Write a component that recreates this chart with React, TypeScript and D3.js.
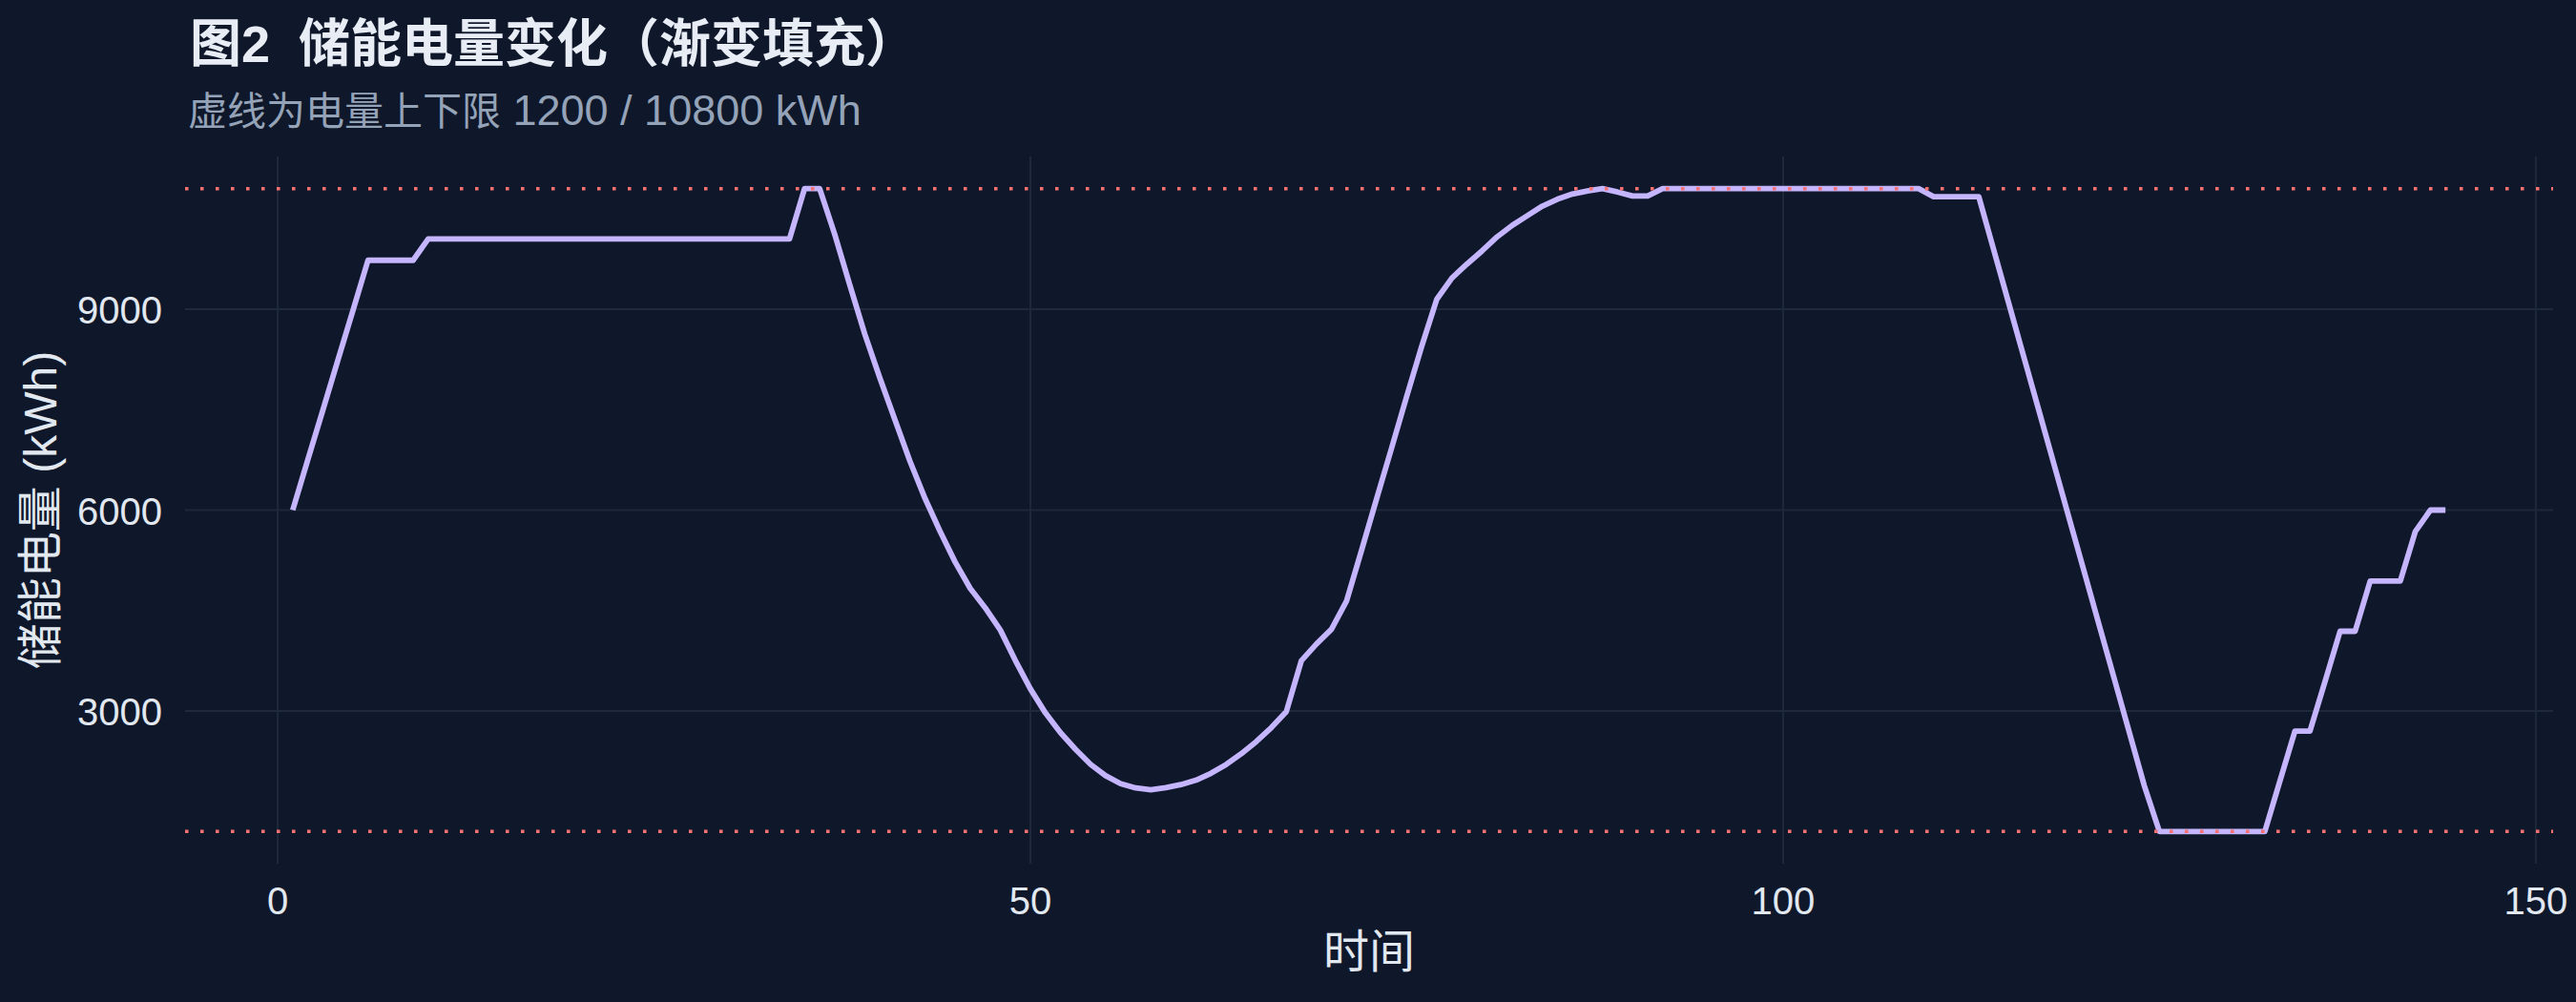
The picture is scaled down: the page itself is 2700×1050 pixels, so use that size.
import React from "react";
import * as d3 from "d3";

// ---- data ----
const chargeUp: number[] = [6000, 6750, 7490, 8240, 8980, 9730, 9730, 9730, 9730];
const holdHigh: number[] = [
  10050, 10050, 10050, 10050, 10050, 10050, 10050, 10050, 10050, 10050, 10050, 10050, 10050,
  10050, 10050, 10050, 10050, 10050, 10050, 10050, 10050, 10050, 10050, 10050, 10050,
  10800, 10800,
];
const dischargeValley: number[] = [
  10120, 9366, 8627, 7973, 7351, 6730, 6174, 5683, 5225, 4832, 4540, 4210, 3755, 3330, 2970,
  2675, 2427, 2202, 2032, 1914, 1850, 1823, 1856, 1900, 1966, 2070, 2200, 2359, 2542, 2750, 2990,
];
const rechargeNoon: number[] = [
  3750, 4000, 4220, 4640, 5400, 6170, 6930, 7700, 8450, 9150, 9465, 9674, 9870, 10080, 10250,
  10394, 10538, 10642, 10720, 10766, 10800, 10750, 10690, 10690,
];
const fullHold: number[] = [
  10800, 10800, 10800, 10800, 10800, 10800, 10800, 10800, 10800, 10800, 10800, 10800, 10800,
  10800, 10800, 10800, 10800, 10800, 10680, 10680, 10680, 10680,
];
const eveningDischarge: number[] = [
  9880, 9080, 8280, 7480, 6680, 5880, 5080, 4280, 3480, 2680, 1880,
  1200, 1200, 1200, 1200, 1200, 1200, 1200, 1200,
];
const nightCharge: number[] = [1950, 2700, 2700, 3440, 4190, 4190, 4940, 4940, 4940, 5680, 6000, 6000];

const energy: number[] = [
  ...chargeUp,
  ...holdHigh,
  ...dischargeValley,
  ...rechargeNoon,
  ...fullHold,
  ...eveningDischarge,
  ...nightCharge,
];

const limits: number[] = [1200, 10800];
const xTicks: number[] = [0, 50, 100, 150];
const yTicks: number[] = [3000, 6000, 9000];

const titleText = "图2  储能电量变化（渐变填充）";
const subtitleCn = "虚线为电量上下限";
const subtitleNum = " 1200 / 10800 kWh";
const xTitle = "时间";
const yTitle = "储能电量 (kWh)";

// ---- layout ----
const W = 2700;
const H = 1050;
const panel = { left: 194, right: 2676, top: 164, bottom: 905 };
const FONT = "'Liberation Sans', Arial, 'Noto Sans CJK SC', sans-serif";

export default function App() {
  const points = energy.map((v, i) => ({ t: i + 1, v }));
  const tExt = d3.extent(points, (d) => d.t) as [number, number];
  const vExt = d3.extent([...energy, ...limits]) as [number, number];
  const tPad = (tExt[1] - tExt[0]) * 0.05;
  const vPad = (vExt[1] - vExt[0]) * 0.05;

  const x = d3
    .scaleLinear()
    .domain([tExt[0] - tPad, tExt[1] + tPad])
    .range([panel.left, panel.right]);
  const y = d3
    .scaleLinear()
    .domain([vExt[0] - vPad, vExt[1] + vPad])
    .range([panel.bottom, panel.top]);

  const line = d3
    .line<{ t: number; v: number }>()
    .x((d) => x(d.t))
    .y((d) => y(d.v));

  return (
    <div style={{ position: "absolute", left: 0, top: 0 }}>
      <svg width={W} height={H} style={{ display: "block" }} fontFamily={FONT}>
        <rect x={0} y={0} width={W} height={H} fill="#0f172a" />

        {/* gridlines */}
        {yTicks.map((v) => (
          <line
            key={"gy" + v}
            x1={panel.left}
            x2={panel.right}
            y1={y(v)}
            y2={y(v)}
            stroke="#1e293b"
            strokeWidth={2}
          />
        ))}
        {xTicks.map((t) => (
          <line
            key={"gx" + t}
            x1={x(t)}
            x2={x(t)}
            y1={panel.top}
            y2={panel.bottom}
            stroke="#1e293b"
            strokeWidth={2}
          />
        ))}

        {/* energy line */}
        <path
          d={line(points) || ""}
          fill="none"
          stroke="#c4b5fd"
          strokeWidth={5.8}
          strokeLinejoin="round"
          strokeLinecap="butt"
        />

        {/* limit lines */}
        {limits.map((v) => (
          <line
            key={"lim" + v}
            x1={panel.left}
            x2={panel.right}
            y1={y(v)}
            y2={y(v)}
            stroke="#f87171"
            strokeWidth={3.5}
            strokeDasharray="3.5 12.5"
          />
        ))}

        {/* y tick labels */}
        {yTicks.map((v) => (
          <text
            key={"ty" + v}
            x={170}
            y={y(v) + 15}
            textAnchor="end"
            fontSize={40}
            fill="#e2e8f0"
          >
            {v}
          </text>
        ))}
        {/* x tick labels */}
        {xTicks.map((t) => (
          <text
            key={"tx" + t}
            x={x(t)}
            y={958}
            textAnchor="middle"
            fontSize={40}
            fill="#e2e8f0"
          >
            {t}
          </text>
        ))}

        {/* axis titles */}
        <text
          x={(panel.left + panel.right) / 2}
          y={1014}
          textAnchor="middle"
          fontSize={48}
          fill="#e2e8f0"
        >
          {xTitle}
        </text>
        <text
          transform={`translate(59, ${(panel.top + panel.bottom) / 2}) rotate(-90)`}
          textAnchor="middle"
          fontSize={48}
          fill="#e2e8f0"
        >
          {yTitle}
        </text>

        {/* title & subtitle */}
        <text
          x={199}
          y={65}
          fontSize={54}
          fontWeight="bold"
          fill="#e8edf5"
          style={{ whiteSpace: "pre" }}
        >
          {titleText}
        </text>
        <text x={197} y={131} fontSize={41} fill="#94a3b8" style={{ whiteSpace: "pre" }}>
          <tspan>{subtitleCn}</tspan>
          <tspan fontSize={45}>{subtitleNum}</tspan>
        </text>
      </svg>
    </div>
  );
}
